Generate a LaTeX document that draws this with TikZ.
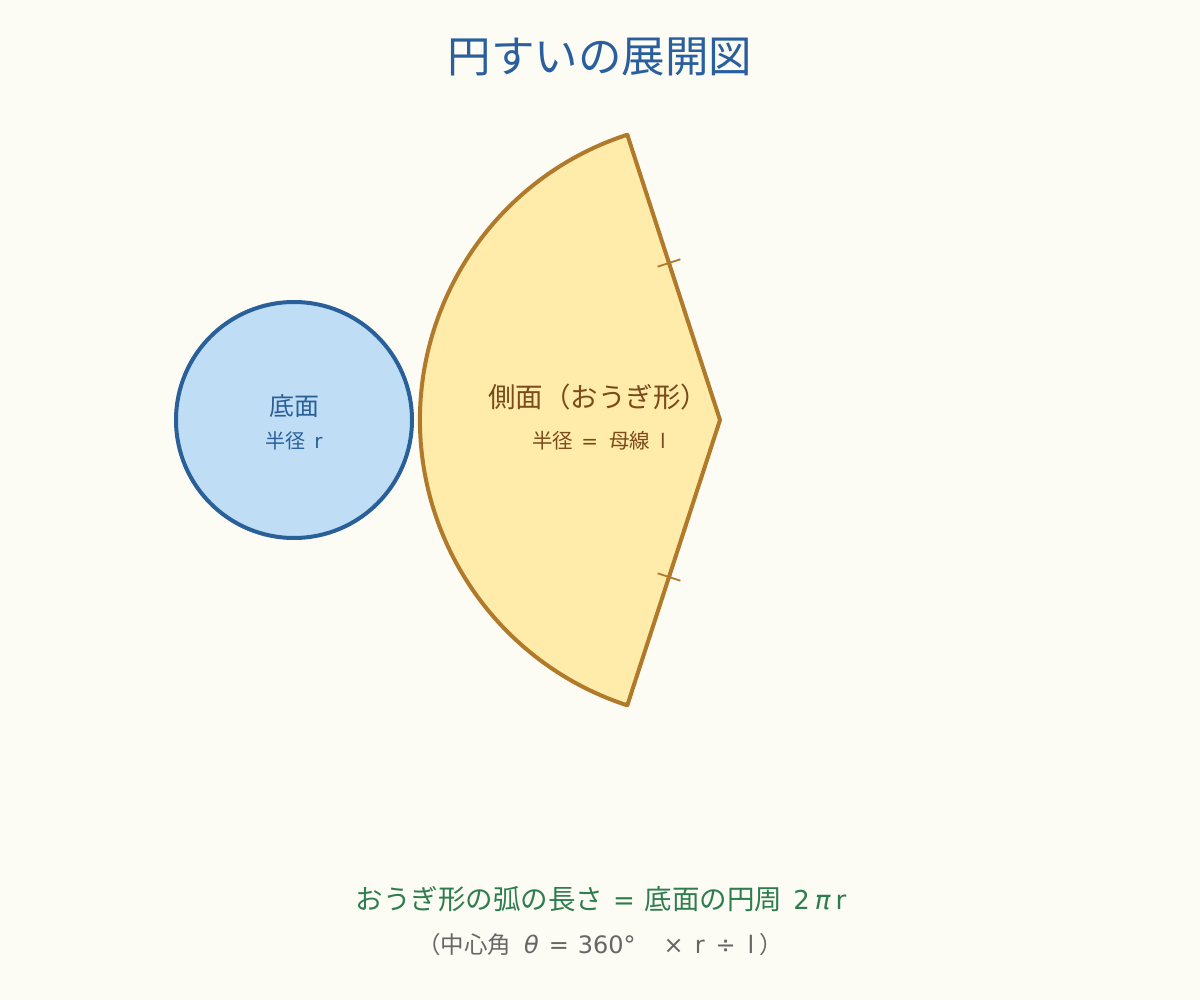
\documentclass[tikz,border=0pt]{standalone}
\usepackage{fontspec}
\setmainfont{Noto Sans CJK JP}
\newfontfamily\lat{DejaVu Sans}
\usetikzlibrary{calc}
\definecolor{bg}{HTML}{FCFBF4}
\definecolor{titleblue}{HTML}{2A5F9E}
\definecolor{circfill}{HTML}{BFDDF5}
\definecolor{circline}{HTML}{2A6099}
\definecolor{secfill}{HTML}{FFEBAA}
\definecolor{secline}{HTML}{B07A2A}
\definecolor{sectext}{HTML}{7A4A1A}
\definecolor{greentext}{HTML}{2E7D4F}
\definecolor{graytext}{HTML}{666666}
\tikzset{
  lbl/.style={inner sep=0pt, anchor=center},
}
\begin{document}
\begin{tikzpicture}[x=1pt,y=-1pt]
\fill[bg] (0,0) rectangle (1200,1000);
\useasboundingbox (0,0) rectangle (1200,1000);
% title
\node[lbl, text=titleblue, font=\fontsize{43.5}{50}\selectfont] (title) at (600,57) {円すいの展開図};
% base circle
\node[circle, draw=circline, fill=circfill, line width=4pt, minimum size=236pt, inner sep=0pt] (base) at (294,420) {};
\node[lbl, text=circline, font=\fontsize{25}{30}\selectfont] (baselbl) at (294,406) {底面};
\node[lbl, text=circline, font=\fontsize{20}{24}\selectfont] (baser) at (294,441) {半径\hspace{9pt}{\lat\fontsize{20}{24}\selectfont r}};
% sector
\coordinate (apex) at (720,420);
\coordinate (top) at (627.3,134.7);
\coordinate (bot) at (627.3,705.3);
\filldraw[fill=secfill, draw=secline, line width=4pt, line join=round] (apex) -- (top) arc[start angle=252, end angle=108, radius=300] -- cycle;
% tick marks
\coordinate (t1) at (669,263);
\coordinate (t2) at (669,577);
\draw[secline, line width=1.8pt] ($(t1)+(-11.4,3.7)$) -- ($(t1)+(11.4,-3.7)$);
\draw[secline, line width=1.8pt] ($(t2)+(-11.4,-3.7)$) -- ($(t2)+(11.4,3.7)$);
\node[lbl, text=sectext, font=\fontsize{27.5}{32}\selectfont] (sidelbl) at (598,397) {側面（おうぎ形）};
\node[lbl, text=sectext, font=\fontsize{20.5}{24}\selectfont] (sider) at (599,441) {半径\hspace{8pt}{\lat\fontsize{20}{24}\selectfont =}\hspace{11pt}母線\hspace{10pt}{\lat\fontsize{20}{24}\selectfont l}};
% bottom text
\node[lbl, text=greentext, font=\fontsize{27.5}{32}\selectfont] (arc) at (601,899) {おうぎ形の弧の長さ\hspace{10pt}{\lat\fontsize{26}{30}\selectfont =}\hspace{10pt}底面の円周\hspace{11pt}{\lat\fontsize{26}{30}\selectfont 2\hspace{5pt}{\itshape π}\hspace{5pt}r}};
\node[lbl, text=graytext, font=\fontsize{23.5}{27}\selectfont] (angle) at (600,945) {（中心角\hspace{13pt}{\lat\fontsize{24}{28}\selectfont{\itshape θ}\hspace{10pt}=\hspace{9pt}360°\hspace{28pt}×\hspace{11pt}r\hspace{11pt}÷\hspace{12pt}l\hspace{5pt}}）};
\end{tikzpicture}
\end{document}
